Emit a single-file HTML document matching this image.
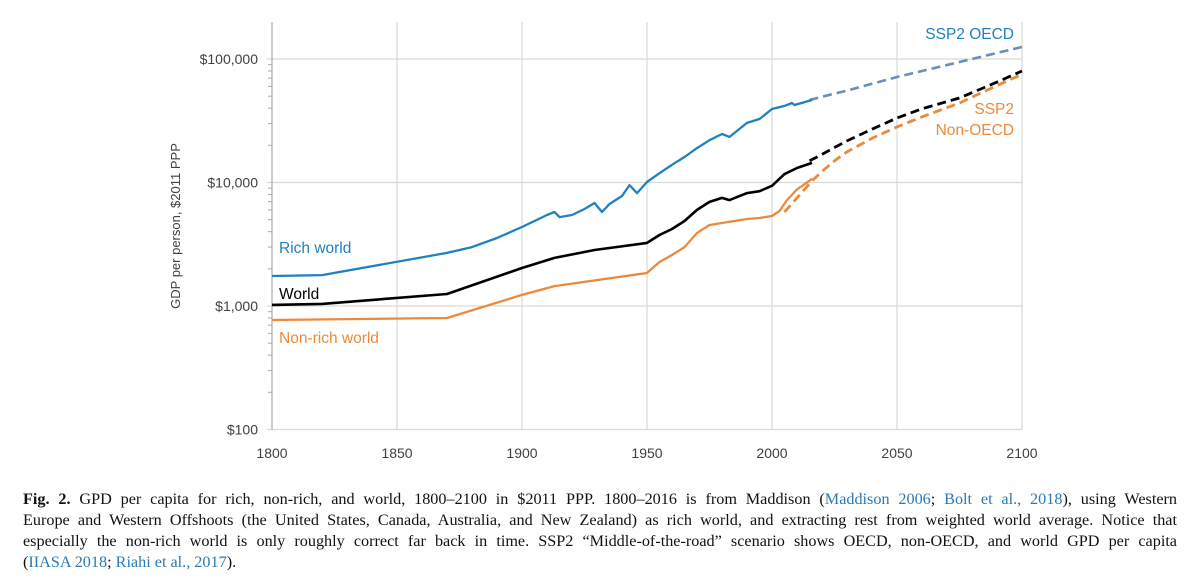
<!DOCTYPE html>
<html><head><meta charset="utf-8"><style>
body{margin:0;width:1200px;height:585px;background:#fff;overflow:hidden;position:relative}
svg{position:absolute;left:0;top:0}
.cap{position:absolute;left:23px;width:1154px;font-family:"Liberation Serif",serif;font-size:16.2px;color:#111;line-height:21px}
.cap div{text-align:justify;text-align-last:justify;white-space:nowrap}
.cap div.last{text-align-last:left}
.cap a{color:#2a7ab0;text-decoration:none}
</style></head><body>
<svg width="1200" height="480" font-family="Liberation Sans, sans-serif">
<g id="grid"></g><g id="axes"></g><g id="series"></g><g id="labels"></g>
</svg>
<div class="cap" style="top:489px">
<div><b>Fig. 2.</b> GPD per capita for rich, non-rich, and world, 1800–2100 in $2011 PPP. 1800–2016 is from Maddison (<a>Maddison 2006</a>; <a>Bolt et al., 2018</a>), using Western</div>
<div>Europe and Western Offshoots (the United States, Canada, Australia, and New Zealand) as rich world, and extracting rest from weighted world average. Notice that</div>
<div>especially the non-rich world is only roughly correct far back in time. SSP2 “Middle-of-the-road” scenario shows OECD, non-OECD, and world GPD per capita</div>
<div class="last">(<a>IIASA 2018</a>; <a>Riahi et al., 2017</a>).</div>
</div>
<script>
const xTicks=[1800,1850,1900,1950,2000,2050,2100];
const yTicks=[100,1000,10000,100000];
const yTickLabels=["$100","$1,000","$10,000","$100,000"];
const richYears=[1800,1820,1870,1880,1890,1900,1910,1913,1915,1920,1925,1929,1932,1935,1940,1943,1946,1950,1955,1960,1965,1970,1975,1980,1983,1990,1995,2000,2005,2008,2009,2016];
const richVals=[1750,1780,2690,3000,3550,4360,5460,5770,5250,5460,6100,6820,5770,6700,7770,9530,8200,10100,11900,13900,16100,19000,22000,24700,23400,30400,32700,39400,41700,44000,42400,46600];
const worldYears=[1800,1820,1870,1900,1913,1929,1950,1955,1960,1965,1970,1975,1980,1983,1990,1995,2000,2005,2010,2016];
const worldVals=[1020,1040,1250,2030,2450,2840,3240,3760,4200,4880,6000,6960,7500,7200,8200,8500,9400,11700,13100,14400];
const nonrichYears=[1800,1870,1900,1913,1950,1955,1960,1965,1970,1975,1980,1990,1995,2000,2003,2006,2010,2016];
const nonrichVals=[770,800,1230,1450,1850,2270,2590,3000,3900,4530,4700,5060,5160,5350,5880,7200,8800,10700];
const ssp2OecdYears=[2015,2020,2030,2040,2050,2060,2075,2090,2100];
const ssp2OecdVals=[46600,49500,55500,63000,71500,80000,94600,112000,125000];
const ssp2WorldYears=[2015,2020,2025,2030,2040,2050,2060,2075,2090,2100];
const ssp2WorldVals=[15000,16900,19200,21700,27000,33300,39500,48300,65000,80000];
const ssp2NonOecdYears=[2005,2010,2016,2020,2025,2030,2040,2050,2060,2075,2090,2100];
const ssp2NonOecdVals=[5770,7500,10300,12300,15000,17700,22800,28200,34000,44000,61000,75000];

const X0=272,X1=1022,Y0=429.5,DEC=123.5,TOP=22;
const sx=y=>X0+(y-1800)*(X1-X0)/300;
const sy=v=>Y0-(Math.log10(v)-2)*DEC;
const NS="http://www.w3.org/2000/svg";
function mk(tag,parent,attrs){const e=document.createElementNS(NS,tag);for(const k in attrs)e.setAttribute(k,attrs[k]);document.getElementById(parent).appendChild(e);return e;}

xTicks.forEach((t,i)=>{
  if(i>0){const g=mk('line','grid',{x1:sx(t),x2:sx(t),y1:TOP,y2:Y0,stroke:'#d9d9d9','stroke-width':1.2});
  
  }
  const l=mk('text','axes',{x:sx(t),y:458,'text-anchor':'middle','font-size':14,fill:'#404040'});
  l.textContent=t;
  
  
});
yTicks.forEach((t,i)=>{
  const g=mk('line','grid',{x1:X0-5,x2:X1,y1:sy(t),y2:sy(t),stroke:'#d9d9d9','stroke-width':1.2});
  
  
  const l=mk('text','axes',{x:258,y:sy(t)+5,'text-anchor':'end','font-size':14,fill:'#404040'});
  l.textContent=yTickLabels[i];
  
  
  if(i<yTicks.length-1){for(let m=2;m<10;m++){const mt=mk('line','axes',{x1:X0-4,x2:X0,y1:sy(t*m),y2:sy(t*m),stroke:'#aaa'});
  
  }}
});
const ax=mk('line','axes',{x1:X0,x2:X0,y1:TOP,y2:Y0,stroke:'#aaa','stroke-width':1.2});


const yt=mk('text','axes',{transform:'translate(180,226) rotate(-90)','text-anchor':'middle','font-size':13,fill:'#404040'});
yt.textContent='GDP per person, $2011 PPP';



function line(ys,vs,color,dash,name,w){
  const d=ys.map((y,i)=>(i?'L':'M')+sx(y).toFixed(1)+','+sy(vs[i]).toFixed(1)).join(' ');
  const p=mk('path','series',{d:d,fill:'none',stroke:color,'stroke-width':w,'stroke-linejoin':'round'});
  if(dash)p.setAttribute('stroke-dasharray',dash);
  
  
}
line(ssp2OecdYears,ssp2OecdVals,'#6b8fb8','9,5','ssp2-oecd-line',2.6);
line(ssp2NonOecdYears,ssp2NonOecdVals,'#ec8a3c','9,5','ssp2-non-oecd-line',2.8);
line(ssp2WorldYears,ssp2WorldVals,'#000','9,5','ssp2-world-line',2.8);
line(richYears,richVals,'#1f82bf',null,'rich-world-line',2.3);
line(nonrichYears,nonrichVals,'#ec8a3c',null,'non-rich-world-line',2.3);
line(worldYears,worldVals,'#000',null,'world-line',2.6);

function lab(x,y,t,c,name,anchor){const e=mk('text','labels',{x:x,y:y,'font-size':15.5,fill:c,'text-anchor':anchor||'start'});e.textContent=t;

}
lab(279,253,'Rich world','#1f82bf','rich-world-label');
lab(279,299,'World','#000','world-label');
lab(279,343,'Non-rich world','#ec8a3c','non-rich-world-label');
lab(1014,39,'SSP2 OECD','#1f82bf','ssp2-oecd-label','end');
lab(1014,114,'SSP2','#ec8a3c','ssp2-label','end');
lab(1014,135,'Non-OECD','#ec8a3c','non-oecd-label','end');
</script>
</body></html>
